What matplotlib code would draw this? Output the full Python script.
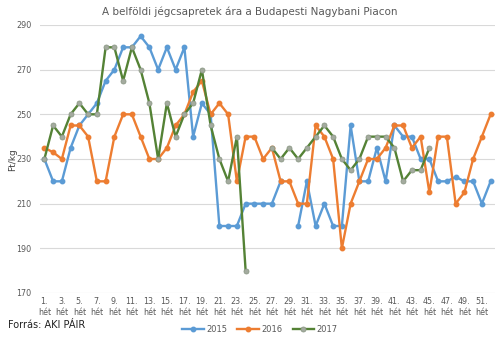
import matplotlib.pyplot as plt
import numpy as np

nan = np.nan
weeks = np.arange(1, 53)

# 2015 (blue)
y2015 = [230, 220, 220, 235, 245, 250, 255, 265, 270, 280, 280, 285, 280, 270, 280, 270,
         280, 240, 255, 250, 200, 200, 200, 210, 210, 210, 210, 220, nan, 200, 220, 200,
         210, 200, 200, 245, 220, 220, 235, 220, 245, 240, 240, 230, 230, 220, 220, 222,
         220, 220, 210, 220]
# 2016 (orange)
y2016 = [235, 233, 230, 245, 245, 240, 220, 220, 240, 250, 250, 240, 230, 230, 235, 245,
         250, 260, 265, 250, 255, 250, 220, 240, 240, 230, 235, 220, 220, 210, 210, 245,
         240, 230, 190, 210, 220, 230, 230, 235, 245, 245, 235, 240, 215, 240, 240, 210,
         215, 230, 240, 250]
# 2017 (green)
y2017 = [230, 245, 240, 250, 255, 250, 250, 280, 280, 265, 280, 270, 255, 230, 255, 240,
         250, 255, 270, 245, 230, 220, 240, 180, nan, nan, 235, 230, 235, 230, 235, 240,
         245, 240, 230, 225, 230, 240, 240, 240, 235, 220, 225, 225, 235, nan, nan, nan,
         nan, nan, nan, nan]

xticklabels = [f"{w}.\nhét" for w in range(1, 53, 2)]
yticks = [170, 190, 210, 230, 250, 270, 290]

fig = plt.figure(figsize=(5, 3.39), dpi=100)
ax = fig.add_axes([0.08, 0.1357, 0.91, 0.7906])

ax.plot(weeks, y2015, color="#5b9bd5", lw=1.7, marker="o", markersize=3.2, label="2015")
ax.plot(weeks, y2016, color="#ed7d31", lw=1.7, marker="o", markersize=3.2, label="2016")
ax.plot(weeks, y2017, color="#548235", lw=1.7, marker="o", markersize=3.6,
        markerfacecolor="#a4ab9f", markeredgecolor="#8e9a88", markeredgewidth=0.6, label="2017")

ax.set_xlim(0.5, 52.5)
ax.set_ylim(170, 290)
ax.set_yticks(yticks)
ax.set_xticks(range(1, 53, 2))
ax.set_xticklabels(xticklabels, fontsize=5.8, color="#595959", linespacing=1.3)
ax.tick_params(axis="y", labelsize=5.8, labelcolor="#595959", length=0, pad=6)
ax.tick_params(axis="x", length=0, pad=3)
ax.grid(axis="y", color="#d9d9d9", lw=0.8)
ax.set_axisbelow(True)
for s in ax.spines.values():
    s.set_visible(False)

fig.text(0.026, 0.53, "Ft/kg", rotation=90, ha="center", va="center",
         fontsize=6.5, color="#404040")
fig.text(0.5, 0.965, "A belföldi jégcsapretek ára a Budapesti Nagybani Piacon",
         ha="center", va="center", fontsize=7.5, color="#595959")
fig.text(0.016, 0.04, "Forrás: AKI PÁIR", ha="left", va="center", fontsize=7, color="#222222")

fig.legend(loc="center", bbox_to_anchor=(0.52, 0.028), ncol=3, frameon=False,
           fontsize=6, handlelength=2.6, columnspacing=1.2, handletextpad=0.3,
           labelcolor="#595959")

fig.savefig("out.png", dpi=100)
